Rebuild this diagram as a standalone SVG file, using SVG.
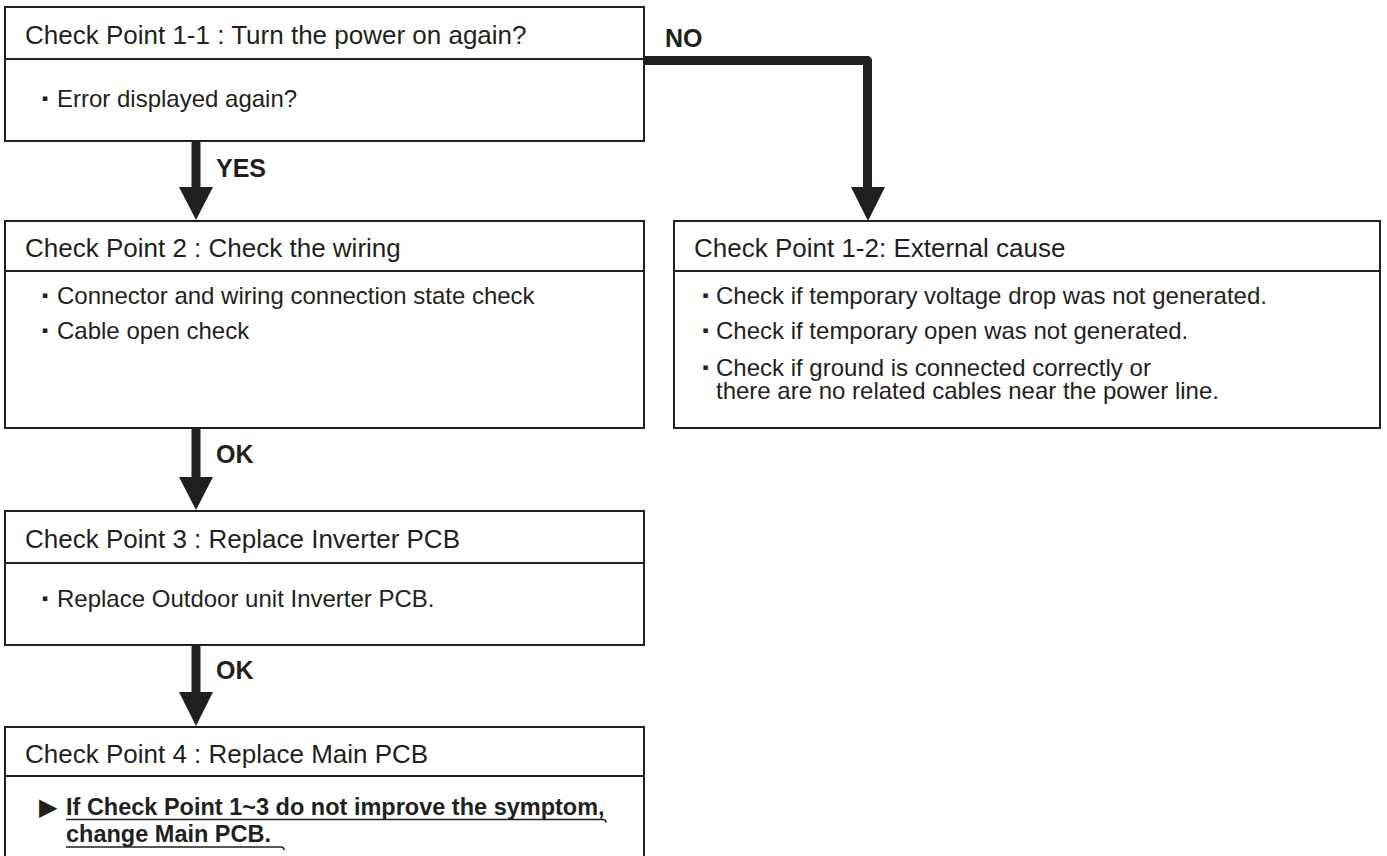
<svg xmlns="http://www.w3.org/2000/svg" width="1387" height="856" viewBox="0 0 1387 856">
<style>
.box{fill:#fff;stroke:#231f20;stroke-width:2}
.div{stroke:#231f20;stroke-width:2}
.hd{font-family:"Liberation Sans",Arial,sans-serif;font-size:26px;fill:#231f20}
.bd{font-family:"Liberation Sans",Arial,sans-serif;font-size:24px;fill:#231f20}
.bul{font-family:"DejaVu Sans",sans-serif;font-size:9px;fill:#231f20;text-anchor:middle}
.lbl{font-family:"Liberation Sans",Arial,sans-serif;font-size:25px;font-weight:bold;fill:#231f20}
.bold{font-family:"Liberation Sans",Arial,sans-serif;font-size:23.5px;font-weight:bold;fill:#231f20}
.tri{font-family:"DejaVu Sans",sans-serif;font-size:24px;fill:#231f20}
.shaft{stroke:#231f20;stroke-width:9;fill:none}
.head{fill:#231f20}
.ul{stroke:#231f20;stroke-width:1.6;fill:none}
</style>
<g id="connectors">
<path class="shaft" d="M644,60.5 H867.5 V190" stroke-linejoin="round"/>
<polygon class="head" points="851,187 885,187 868,221"/>
<line class="shaft" x1="196" y1="141" x2="196" y2="189"/>
<polygon class="head" points="179,187 213,187 196,220"/>
<line class="shaft" x1="196" y1="428" x2="196" y2="479"/>
<polygon class="head" points="179,477 213,477 196,510"/>
<line class="shaft" x1="196" y1="645" x2="196" y2="694"/>
<polygon class="head" points="179,692 213,692 196,726"/>
<text class="lbl" x="665" y="47">NO</text>
<text class="lbl" x="216" y="177">YES</text>
<text class="lbl" x="216" y="463">OK</text>
<text class="lbl" x="216" y="679">OK</text>
</g>
<g id="cp1-1">
<rect class="box" x="5" y="7" width="639" height="134"/>
<line class="div" x1="5" y1="59" x2="644" y2="59"/>
<text class="hd" x="25" y="44">Check Point 1-1 : Turn the power on again?</text>
<text class="bul" x="45" y="101">▪</text>
<text class="bd" x="57" y="107">Error displayed again?</text>
</g>
<g id="cp2">
<rect class="box" x="5" y="221" width="639" height="207"/>
<line class="div" x1="5" y1="271" x2="644" y2="271"/>
<text class="hd" x="25" y="257">Check Point 2 : Check the wiring</text>
<text class="bul" x="45" y="298">▪</text>
<text class="bd" x="57" y="304">Connector and wiring connection state check</text>
<text class="bul" x="45" y="333">▪</text>
<text class="bd" x="57" y="339">Cable open check</text>
</g>
<g id="cp1-2">
<rect class="box" x="674" y="221" width="706" height="207"/>
<line class="div" x1="674" y1="271" x2="1380" y2="271"/>
<text class="hd" x="694" y="257">Check Point 1-2: External cause</text>
<text class="bul" x="705.5" y="298">▪</text>
<text class="bd" x="716" y="304">Check if temporary voltage drop was not generated.</text>
<text class="bul" x="705.5" y="333">▪</text>
<text class="bd" x="716" y="339">Check if temporary open was not generated.</text>
<text class="bul" x="705.5" y="370">▪</text>
<text class="bd" x="716" y="376">Check if ground is connected correctly or</text>
<text class="bd" x="716" y="399">there are no related cables near the power line.</text>
</g>
<g id="cp3">
<rect class="box" x="5" y="511" width="639" height="134"/>
<line class="div" x1="5" y1="563" x2="644" y2="563"/>
<text class="hd" x="25" y="548">Check Point 3 : Replace Inverter PCB</text>
<text class="bul" x="45" y="601">▪</text>
<text class="bd" x="57" y="607">Replace Outdoor unit Inverter PCB.</text>
</g>
<g id="cp4">
<path class="box" d="M5,860 V727 H644 V860"/>
<line class="div" x1="5" y1="776" x2="644" y2="776"/>
<text class="hd" x="25" y="763">Check Point 4 : Replace Main PCB</text>
<text class="tri" x="39" y="815">▶</text>
<text class="bold" x="66" y="815">If Check Point 1~3 do not improve the symptom,</text>
<path class="ul" d="M66,819.5 H603 Q606,819.5 606,822.5"/>
<text class="bold" x="66" y="842">change Main PCB.</text>
<path class="ul" d="M66,847 H281 Q284,847 284,850"/>
</g>
</svg>
